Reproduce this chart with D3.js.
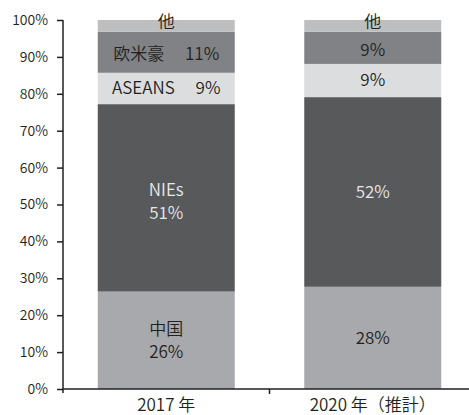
<!DOCTYPE html>
<html><head><meta charset="utf-8">
<script src="https://cdn.jsdelivr.net/npm/d3@7"></script>
<style>
html,body{margin:0;padding:0;background:#fff;}
svg{display:block;font-family:"Noto Sans CJK JP","Noto Sans",sans-serif;font-weight:350;}
</style></head>
<body>
<svg id="c" width="469" height="415"></svg>
<script>
const categories = ['2017 年', '2020 年（推計）'];
const series = ['中国', 'NIEs', 'ASEANS', '欧米豪', '他'];
const values2017 = [26.4, 50.8, 8.5, 11.1, 3.2];
const values2020 = [27.7, 51.4, 9.0, 8.7, 3.2];
const labels2017 = [['中国', '26%'], ['NIEs', '51%'], ['ASEANS\u2003 9%'], ['欧米豪\u2003 11%'], ['他']];
const labels2020 = [['28%'], ['52%'], ['9%'], ['9%'], ['他']];
const yTicks = [0, 10, 20, 30, 40, 50, 60, 70, 80, 90, 100];
const colors = ['#a7a9ac', '#58595b', '#dcdddf', '#808285', '#bcbec0'];
const textColors = ['#231f20', '#e6e7e8', '#231f20', '#231f20', '#231f20'];

const svg = d3.select('#c');
const y = d3.scaleLinear().domain([0, 100]).range([389, 20]);
const x = d3.scaleBand().domain(categories).range([63, 476]).padding(0);
const barW = 137;

const data = categories.map((c, i) => {
  const vals = i === 0 ? values2017 : values2020;
  const labs = i === 0 ? labels2017 : labels2020;
  let acc = 0;
  return series.map((s, j) => {
    const d = {cat: c, s, j, y0: acc, y1: acc + vals[j], lab: labs[j]};
    acc += vals[j];
    return d;
  });
}).flat();

// bars
svg.append('g').selectAll('rect').data(data).join('rect')
  .attr('x', d => x(d.cat) + x.bandwidth() / 2 - barW / 2)
  .attr('width', barW)
  .attr('y', d => y(d.y1))
  .attr('height', d => y(d.y0) - y(d.y1))
  .attr('fill', d => colors[d.j]);

// labels
const lineH = 23;
const offs = {3: 2, 4: -4};
const lg = svg.append('g').attr('font-size', 17);
data.forEach(d => {
  const cx = x(d.cat) + x.bandwidth() / 2;
  let cy = (y(d.y0) + y(d.y1)) / 2 + (offs[d.j] || 0);
  if (d.j === 1 && d.lab.length === 2) cy += 4;
  const n = d.lab.length;
  const t = lg.append('text').attr('text-anchor', 'middle').attr('fill', textColors[d.j]);
  d.lab.forEach((l, k) => {
    t.append('tspan').attr('x', cx)
      .attr('y', cy + (k - (n - 1) / 2) * lineH)
      .attr('dy', '0.35em').text(l);
  });
});

const ff = '"Noto Sans CJK JP","Noto Sans",sans-serif';
// y axis
const ya = svg.append('g').attr('transform', 'translate(63,0)')
  .call(d3.axisLeft(y).tickValues(yTicks).tickSize(6).tickPadding(9).tickFormat(d => d + '%'));
ya.select('.domain').attr('d', 'M0,' + y(100) + 'V393').attr('stroke', '#231f20').attr('stroke-width', 1.5);
ya.selectAll('.tick line').attr('stroke', '#231f20').attr('stroke-width', 1.5);
ya.selectAll('.tick text').attr('font-size', 14).attr('fill', '#231f20').attr('font-family', ff).attr('font-weight', 350);

// x axis
const xa = svg.append('g').attr('transform', 'translate(0,389)')
  .call(d3.axisBottom(x).tickSize(0).tickPadding(10));
xa.select('.domain').attr('d', 'M63,0H469').attr('stroke', '#231f20').attr('stroke-width', 1.5);
xa.selectAll('.tick text').attr('font-size', 17).attr('fill', '#231f20').attr('font-family', ff).attr('font-weight', 350);
xa.append('line').attr('x1', x(categories[1])).attr('x2', x(categories[1]))
  .attr('y1', 0).attr('y2', 5).attr('stroke', '#231f20').attr('stroke-width', 1.5);
</script>
</body></html>
